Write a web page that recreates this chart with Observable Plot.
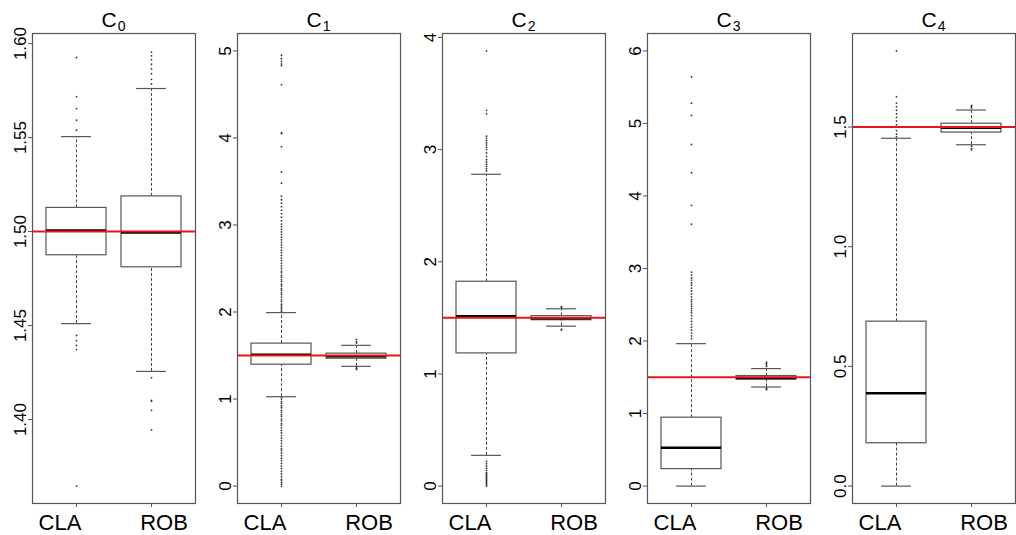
<!DOCTYPE html>
<html><head><meta charset="utf-8">
<script src="https://cdn.jsdelivr.net/npm/d3@7"></script>
<script src="https://cdn.jsdelivr.net/npm/@observablehq/plot@0.6"></script>
<style>
html,body{margin:0;padding:0;background:#fff;}
body{width:1016px;height:535px;overflow:hidden;font-family:"Liberation Sans",Arial,sans-serif;}
#row{display:flex;width:1100px;}
.panel{width:205px;flex:none;}
.title{height:30px;box-sizing:border-box;margin-left:32px;width:163px;text-align:center;font-size:21px;line-height:21px;padding-top:8.5px;color:#000;white-space:nowrap;}
.title sub{font-size:14px;vertical-align:baseline;position:relative;top:4px;margin-left:1px;}
svg{display:block;}
</style></head><body><div id="row"></div>
<script>
// ---- data ----
const panelIndex = ["0", "1", "2", "3", "4"];
const groups = ["CLA", "ROB"];
const referenceValue = 1.5;

const whiskerLow  = [[1.451, 1.4256], [1.027, 1.376], [0.274, 1.426], [0.0, 1.366], [0.0, 1.426]];
const boxLow      = [[1.4874, 1.481], [1.395, 1.464], [1.183, 1.479], [0.234, 1.468], [0.179, 1.477]];
const medians     = [[1.5005, 1.4995], [1.51, 1.492], [1.515, 1.497], [0.53, 1.492], [0.388, 1.497]];
const boxHigh     = [[1.5126, 1.5187], [1.637, 1.522], [1.822, 1.515], [0.943, 1.517], [0.687, 1.514]];
const whiskerHigh = [[1.5505, 1.5761], [1.993, 1.617], [2.78, 1.581], [1.964, 1.62], [1.453, 1.571]];

const outliersC0 = [
  [1.5926, 1.5718, 1.5654, 1.5592, 1.5539, 1.4447, 1.4420, 1.4394, 1.4372, 1.3646],
  [1.5955, 1.5935, 1.5915, 1.589, 1.5865, 1.584, 1.581, 1.5785, 1.4223, 1.4102, 1.4097, 1.4049, 1.3945]
];
const outliersC1 = [
  [4.95, 4.91, 4.88, 4.85, 4.83, 4.61, 4.06, 4.05, 3.90, 3.61, 3.48, 3.33, 3.29, 3.25, 3.21, 3.17, 3.13, 3.09,
   3.05, 3.01, 2.98, 2.95, 2.92, 2.89, 2.86, 2.83, 2.80, 2.77, 2.74, 2.71, 2.68, 2.65, 2.62, 2.59, 2.56, 2.53,
   2.50, 2.47, 2.45, 2.42, 2.40, 2.37, 2.35, 2.32, 2.30, 2.27, 2.25, 2.22, 2.20, 2.17, 2.14, 2.12, 2.09, 2.07,
   2.05, 2.03, 2.01,
   1.02, 1.00, 0.97, 0.95, 0.92, 0.90, 0.87, 0.85, 0.82, 0.80, 0.77, 0.75, 0.72, 0.70, 0.67, 0.64, 0.61, 0.58,
   0.55, 0.52, 0.49, 0.46, 0.43, 0.41, 0.38, 0.35, 0.32, 0.29, 0.26, 0.23, 0.20, 0.17, 0.14, 0.11, 0.08, 0.06,
   0.04, 0.02, 0.00],
  [1.686, 1.66, 1.645, 1.36, 1.35, 1.341]
];
const outliersC2 = [
  [3.88, 3.35, 3.32, 3.12, 3.10, 3.08, 3.06, 3.04, 3.02, 3.00, 2.97, 2.94, 2.91, 2.89, 2.87, 2.85, 2.83, 2.81,
   0.22, 0.20, 0.18, 0.16, 0.14, 0.12, 0.11, 0.10, 0.09, 0.08, 0.07, 0.06, 0.05, 0.04, 0.03, 0.02, 0.01, 0.00],
  [1.60, 1.595, 1.40, 1.39]
];
const outliersC3 = [
  [5.64, 5.28, 5.11, 4.71, 4.32, 3.87, 3.61, 2.95, 2.91, 2.87, 2.84, 2.80, 2.77, 2.73, 2.69, 2.65, 2.61, 2.57,
   2.54, 2.51, 2.48, 2.45, 2.42, 2.39, 2.35, 2.31, 2.27, 2.23, 2.19, 2.15, 2.11, 2.07, 2.03],
  [1.71, 1.69, 1.67, 1.65, 1.35, 1.34, 1.33]
];
const outliersC4 = [
  [1.818, 1.627, 1.60, 1.585, 1.57, 1.555, 1.54, 1.525, 1.51, 1.50, 1.485, 1.47, 1.46],
  [1.59, 1.585, 1.58, 1.42, 1.41, 1.405]
];
const outliers = [outliersC0, outliersC1, outliersC2, outliersC3, outliersC4];

const yTicks = [
  [1.40, 1.45, 1.50, 1.55, 1.60],
  [0, 1, 2, 3, 4, 5],
  [0, 1, 2, 3, 4],
  [0, 1, 2, 3, 4, 5, 6],
  [0.0, 0.5, 1.0, 1.5]
];
const yTickFormats = [".2f", "d", "d", "d", ".1f"];
const yRanges = [[1.3646, 1.5961], [0, 5], [0, 3.88], [0, 6], [0, 1.818]];

// ---- drawing ----
const W = 205, H = 505, mL = 32, mR = 10, mT = 3, mB = 32;
const frameW = W - mL - mR;
const stapleInset = frameW * 0.8 / 2.16 / 4;
const labelShift = [-16.5, 12.5];
const font = '"Liberation Sans", Arial, sans-serif';
const row = document.getElementById("row");

panelIndex.forEach((k, i) => {
  const panel = document.createElement("div");
  panel.className = "panel";
  const title = document.createElement("div");
  title.className = "title";
  title.innerHTML = `C<sub>${k}</sub>`;
  panel.appendChild(title);

  const [lo, hi] = yRanges[i];
  const ext = (hi - lo) * 0.04;
  const rows = groups.map((g, j) => ({
    group: g, lo: whiskerLow[i][j], q1: boxLow[i][j], med: medians[i][j], q3: boxHigh[i][j], hi: whiskerHigh[i][j]
  }));
  const pts = groups.flatMap((g, j) => outliers[i][j].map(v => ({group: g, value: v})));

  const chart = Plot.plot({
    width: W, height: H, marginTop: mT, marginBottom: mB, marginLeft: mL, marginRight: mR,
    style: {fontFamily: font, fontSize: "17px", background: "transparent", color: "#000", overflow: "visible"},
    x: {type: "band", domain: groups, paddingInner: 0.2, paddingOuter: 0.18},
    y: {domain: [lo - ext, hi + ext]},
    marks: [
      Plot.dot(pts, {x: "group", y: "value", r: 0.9, fill: "#333", stroke: "none"}),
      Plot.ruleX(rows, {x: "group", y1: "q3", y2: "hi", stroke: "#444", strokeWidth: 1, strokeDasharray: "3,2"}),
      Plot.ruleX(rows, {x: "group", y1: "lo", y2: "q1", stroke: "#444", strokeWidth: 1, strokeDasharray: "3,2"}),
      Plot.tickY(rows, {x: "group", y: "hi", insetLeft: stapleInset, insetRight: stapleInset, stroke: "#555", strokeWidth: 1.2}),
      Plot.tickY(rows, {x: "group", y: "lo", insetLeft: stapleInset, insetRight: stapleInset, stroke: "#555", strokeWidth: 1.2}),
      Plot.barY(rows, {x: "group", y1: "q1", y2: "q3", fill: "white", stroke: "#555", strokeWidth: 1.2}),
      Plot.tickY(rows, {x: "group", y: "med", stroke: "#000", strokeWidth: 2.5}),
      Plot.ruleY([referenceValue], {stroke: "#e8141b", strokeWidth: 2}),
      Plot.frame({stroke: "#555", strokeWidth: 1.2}),
      Plot.axisY({ticks: yTicks[i], tickFormat: d3.format(yTickFormats[i]), tickSize: 4, tickPadding: 3,
                  tickRotate: -90, fontSize: 17, stroke: "#555", fill: "#000", label: null}),
      Plot.axisX({tickSize: 4, tickFormat: () => "", stroke: "#555", label: null}),
      ...groups.map((g, j) => Plot.text([g], {x: d => d, text: d => d, frameAnchor: "bottom", lineAnchor: "bottom",
                  dy: 26, dx: labelShift[j], fontSize: 22, fill: "#000"}))
    ]
  });
  panel.appendChild(chart);
  row.appendChild(panel);
});
</script></body></html>
